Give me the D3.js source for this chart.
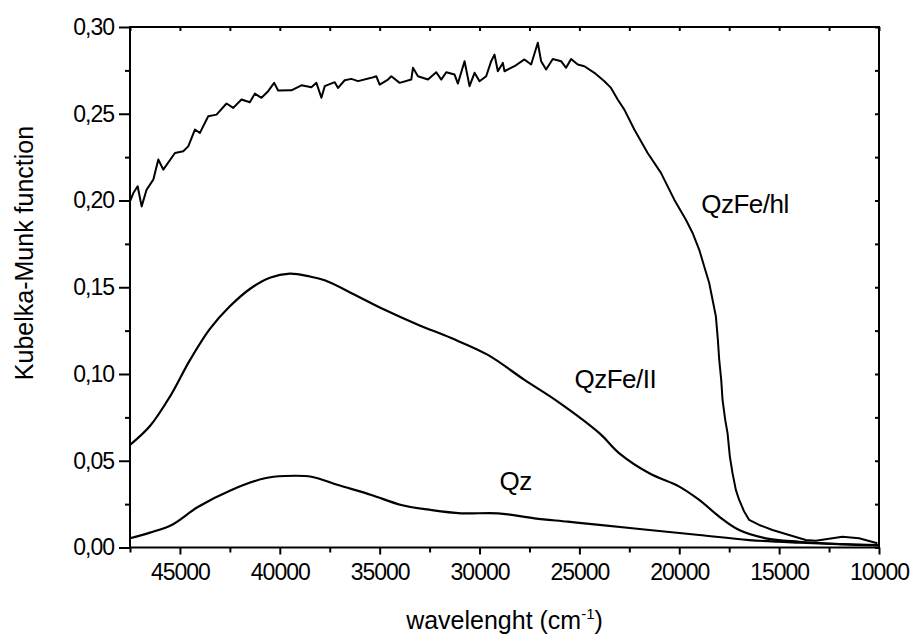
<!DOCTYPE html>
<html>
<head>
<meta charset="utf-8">
<script src="https://cdn.jsdelivr.net/npm/d3@7"></script>
<style>
  body { margin: 0; background: #fff; }
  svg { display: block; }
  text { font-family: "Liberation Sans", Arial, sans-serif; fill: #000; }
</style>
</head>
<body>
<svg id="chart" width="911" height="634"></svg>
<script>
// wavenumber (cm-1) readings, descending
var hlWave = [47500, 47333, 47117, 46917, 46667, 46333, 46083, 45833, 45250, 44833, 44583, 44250, 44000,
    43583, 43167, 42667, 42333, 41917, 41500, 41250, 40917, 40583, 40283, 40083, 39417, 38917, 38417,
    38167, 37917, 37750, 37250, 37083, 36750, 36417, 36083, 35417, 35167, 35000, 34583, 34417, 34000,
    33417, 33333, 33083, 32583, 32167, 31917, 31667, 31250, 31083, 30750, 30500, 30250, 30000, 29667,
    29417, 29250, 29083, 28833, 28750, 28250, 27750, 27417, 27083, 26917, 26667, 26333, 25917, 25667,
    25417, 25083, 24750, 24250, 23750, 23417, 23083, 22750, 22250, 21583, 20917, 20250, 19667, 19333,
    19000, 18750, 18500, 18333, 18167, 18067, 18000, 17900, 17833, 17700, 17583, 17467, 17333, 17167,
    17000, 16750, 16500, 16000, 15333, 14500, 13667, 13167, 12500, 11833, 11000, 10083];
var hlVal = [0.1995, 0.2043, 0.2082, 0.1966, 0.2063, 0.2120, 0.2236, 0.2178, 0.2274, 0.2284, 0.2312, 0.2409, 0.2390,
    0.2486, 0.2495, 0.2559, 0.2534, 0.2582, 0.2566, 0.2616, 0.2592, 0.2630, 0.2678, 0.2634, 0.2635, 0.2664, 0.2653,
    0.2678, 0.2592, 0.2659, 0.2682, 0.2649, 0.2693, 0.2701, 0.2688, 0.2707, 0.2716, 0.2668, 0.2697, 0.2716, 0.2678,
    0.2697, 0.2765, 0.2716, 0.2697, 0.2739, 0.2697, 0.2739, 0.2726, 0.2674, 0.2803, 0.2659, 0.2736, 0.2687, 0.2716,
    0.2803, 0.2841, 0.2745, 0.2793, 0.2745, 0.2774, 0.2813, 0.2784, 0.2909, 0.2803, 0.2755, 0.2816, 0.2803, 0.2765,
    0.2816, 0.2784, 0.2774, 0.2736, 0.2687, 0.2649, 0.2582, 0.2524, 0.2409, 0.2274, 0.2159, 0.2005, 0.1889, 0.1813,
    0.1716, 0.1620, 0.1524, 0.1428, 0.1332, 0.1197, 0.1082, 0.0966, 0.0851, 0.0736, 0.0659, 0.0524, 0.0428, 0.0332,
    0.0274, 0.0207, 0.0159, 0.0130, 0.0101, 0.0072, 0.0043, 0.0039, 0.0050, 0.0062, 0.0053, 0.0024];

var llWave = [47500, 46500, 45500, 44500, 43500, 42500, 41500, 40500, 39500, 38500, 37750, 36250, 34750,
    33083, 31417, 29583, 27750, 26083, 24000, 23000, 21500, 20000, 19000, 18000, 17000, 15667, 14000,
    12000, 10000];
var llVal = [0.0591, 0.0700, 0.0870, 0.1080, 0.1260, 0.1390, 0.1490, 0.1555, 0.1578, 0.1562, 0.1540, 0.1457, 0.1370,
    0.1284, 0.1207, 0.1110, 0.0966, 0.0841, 0.0659, 0.0543, 0.0428, 0.0351, 0.0274, 0.0178, 0.0101, 0.0053, 0.0033,
    0.0020, 0.0012];

var qzWave = [47500, 46500, 45417, 44083, 42417, 40750, 39750, 38417, 37083, 35417, 33917, 32417, 30917,
    29083, 27250, 25583, 24000, 21500, 19000, 16500, 14000, 12000, 10000];
var qzVal = [0.0053, 0.0086, 0.0130, 0.0235, 0.0332, 0.0399, 0.0412, 0.0408, 0.0360, 0.0303, 0.0245, 0.0216, 0.0197,
    0.0197, 0.0168, 0.0149, 0.0130, 0.0101, 0.0072, 0.0043, 0.0028, 0.0020, 0.0014];

var xTicks = [45000, 40000, 35000, 30000, 25000, 20000, 15000, 10000];
var xMinor = [47500, 42500, 37500, 32500, 27500, 22500, 17500, 12500];
var yTicks = [0, 0.05, 0.10, 0.15, 0.20, 0.25, 0.30];
var yMinor = [0.025, 0.075, 0.125, 0.175, 0.225, 0.275];

var curveLabels = [
    { text: 'QzFe/hl', x: 18900, y: 0.193 },
    { text: 'QzFe/II', x: 25250, y: 0.092 },
    { text: 'Qz', x: 29000, y: 0.033 }
];

var svg = d3.select('#chart');
var plotL = 130, plotR = 879, plotT = 27, plotB = 547.5;

var x = d3.scaleLinear().domain([47500, 10000]).range([plotL, plotR]);
var y = d3.scaleLinear().domain([0, 0.30]).range([plotB, plotT]);

var comma = d3.formatLocale({ decimal: ',', thousands: '', grouping: [3], currency: ['', ''] });
var fmtY = comma.format('.2f');

// bottom axis
var gx = svg.append('g').attr('transform', 'translate(0,' + plotB + ')')
    .call(d3.axisBottom(x).tickValues(xTicks).tickSize(7).tickPadding(9).tickFormat(d3.format('d')));
gx.append('g').call(d3.axisBottom(x).tickValues(xMinor).tickSize(5).tickFormat(''));

// left axis
var gy = svg.append('g').attr('transform', 'translate(' + plotL + ',0)')
    .call(d3.axisLeft(y).tickValues(yTicks).tickSize(11).tickPadding(5).tickFormat(fmtY));
gy.append('g').call(d3.axisLeft(y).tickValues(yMinor).tickSize(5).tickFormat(''));

// top and right: inward ticks
svg.append('g').attr('transform', 'translate(0,' + plotT + ')')
    .call(d3.axisBottom(x).tickValues(xTicks.concat(xMinor)).tickSize(4).tickFormat(''));
svg.append('g').attr('transform', 'translate(' + plotR + ',0)')
    .call(d3.axisLeft(y).tickValues(yTicks.concat(yMinor)).tickSize(4).tickFormat(''));

svg.selectAll('.domain').remove();
svg.selectAll('.tick line').attr('stroke', '#000').attr('stroke-width', 2);
svg.selectAll('.tick text')
    .attr('font-family', null)
    .style('font-size', '23px')
    .style('letter-spacing', '-1px')
    .attr('fill', '#000');

svg.append('rect')
    .attr('x', plotL).attr('y', plotT)
    .attr('width', plotR - plotL).attr('height', plotB - plotT)
    .attr('fill', 'none').attr('stroke', '#000').attr('stroke-width', 2);

// curves
var smooth = d3.line().x(d => x(d[0])).y(d => y(d[1])).curve(d3.curveCatmullRom.alpha(0.5));
var rough = d3.line().x(d => x(d[0])).y(d => y(d[1]));

svg.append('path').datum(d3.zip(hlWave, hlVal))
    .attr('d', rough).attr('fill', 'none').attr('stroke', '#000')
    .attr('stroke-width', 2).attr('stroke-linejoin', 'round');
svg.append('path').datum(d3.zip(llWave, llVal))
    .attr('d', smooth).attr('fill', 'none').attr('stroke', '#000').attr('stroke-width', 2.2);
svg.append('path').datum(d3.zip(qzWave, qzVal))
    .attr('d', smooth).attr('fill', 'none').attr('stroke', '#000').attr('stroke-width', 2.2);

svg.selectAll('.clabel').data(curveLabels).enter().append('text')
    .attr('class', 'clabel')
    .attr('x', d => x(d.x)).attr('y', d => y(d.y))
    .style('font-size', '26px')
    .style('letter-spacing', '-0.5px')
    .text(d => d.text);

// axis titles
var xt = svg.append('text')
    .attr('x', (plotL + plotR) / 2).attr('y', 629)
    .attr('text-anchor', 'middle')
    .style('font-size', '25px');
xt.append('tspan').text('wavelenght (cm');
xt.append('tspan').attr('dy', -10).style('font-size', '15px').text('-1');
xt.append('tspan').attr('dy', 10).text(')');

svg.append('text')
    .attr('transform', 'translate(33,253) rotate(-90)')
    .attr('text-anchor', 'middle')
    .style('font-size', '25px')
    .text('Kubelka-Munk function');
</script>
</body>
</html>
